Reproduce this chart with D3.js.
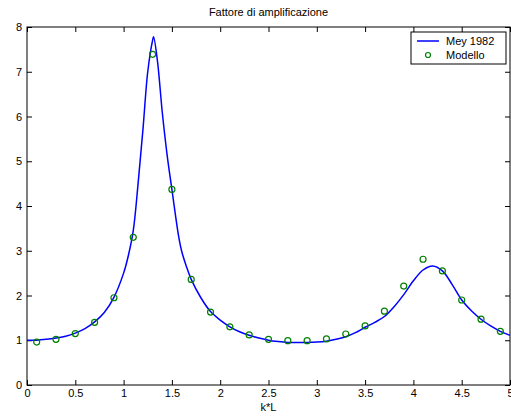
<!DOCTYPE html>
<html>
<head>
<meta charset="utf-8">
<script src="https://cdn.jsdelivr.net/npm/d3@7"></script>
<style>
  body { margin: 0; background: #fff; }
  svg { display: block; font-family: "Liberation Sans", Arial, sans-serif; }
</style>
</head>
<body>
<div id="chart"></div>
<script>
// curve (Mey 1982)
var meyK = [0, 0.1, 0.2, 0.3, 0.4, 0.5, 0.6, 0.7, 0.8, 0.9, 1.0, 1.05, 1.1, 1.15, 1.2, 1.25, 1.3, 1.31, 1.35, 1.4, 1.45, 1.5, 1.57, 1.6, 1.65, 1.7, 1.8, 1.9, 2.0, 2.1, 2.2, 2.3, 2.4, 2.5, 2.6, 2.7, 2.8, 2.9, 3.0, 3.1, 3.2, 3.3, 3.4, 3.5, 3.6, 3.7, 3.8, 3.9, 4.0, 4.1, 4.2, 4.3, 4.4, 4.5, 4.6, 4.7, 4.8, 4.9, 5.0];
var meyA = [1.0, 1.0, 1.02, 1.05, 1.09, 1.16, 1.26, 1.41, 1.62, 1.96, 2.5, 2.9, 3.45, 4.5, 5.7, 7.0, 7.7, 7.78, 7.25, 6.1, 5.15, 4.37, 3.32, 3.0, 2.65, 2.36, 1.95, 1.64, 1.45, 1.3, 1.19, 1.11, 1.05, 1.0, 0.97, 0.95, 0.95, 0.95, 0.96, 0.98, 1.02, 1.08, 1.17, 1.29, 1.4, 1.53, 1.75, 2.02, 2.33, 2.57, 2.66, 2.55, 2.25, 1.9, 1.66, 1.47, 1.32, 1.2, 1.11];

// model points
var modK = [0.1, 0.3, 0.5, 0.7, 0.9, 1.1, 1.3, 1.5, 1.7, 1.9, 2.1, 2.3, 2.5, 2.7, 2.9, 3.1, 3.3, 3.5, 3.7, 3.9, 4.1, 4.3, 4.5, 4.7, 4.9];
var modA = [0.96, 1.02, 1.15, 1.4, 1.95, 3.3, 7.39, 4.37, 2.36, 1.63, 1.3, 1.12, 1.02, 0.99, 0.99, 1.03, 1.14, 1.32, 1.65, 2.21, 2.81, 2.55, 1.9, 1.47, 1.2];

var xTicks = [0, 0.5, 1, 1.5, 2, 2.5, 3, 3.5, 4, 4.5, 5];
var yTicks = [0, 1, 2, 3, 4, 5, 6, 7, 8];

var W = 511, H = 416;
var margin = {left: 27, top: 27, right: 1, bottom: 31};
var width = W - margin.left - margin.right,
    height = H - margin.top - margin.bottom;

var svg = d3.select("#chart").append("svg")
    .attr("width", W)
    .attr("height", H);

var x = d3.scaleLinear().domain([0, 5]).range([0, width]);
var y = d3.scaleLinear().domain([0, 8]).range([height, 0]);

var g = svg.append("g")
    .attr("transform", "translate(" + margin.left + "," + margin.top + ")");

// axes, MATLAB style: ticks inside, box all round
function styleAxis(sel) {
    sel.select(".domain").remove();
    sel.selectAll(".tick line").attr("stroke", "#000");
    sel.selectAll(".tick text").attr("fill", "#000").attr("font-size", 11);
}

g.append("g")
    .attr("transform", "translate(0," + height + ")")
    .call(d3.axisBottom(x).tickValues(xTicks).tickSizeInner(-5).tickSizeOuter(0).tickPadding(4).tickFormat(d3.format("")))
    .call(styleAxis);

g.append("g")
    .call(d3.axisTop(x).tickValues(xTicks).tickSizeInner(-5).tickSizeOuter(0).tickFormat(""))
    .call(styleAxis);

g.append("g")
    .call(d3.axisLeft(y).tickValues(yTicks).tickSizeInner(-5).tickSizeOuter(0).tickPadding(5))
    .call(styleAxis);

g.append("g")
    .attr("transform", "translate(" + width + ",0)")
    .call(d3.axisRight(y).tickValues(yTicks).tickSizeInner(-5).tickSizeOuter(0).tickFormat(""))
    .call(styleAxis);

g.append("rect")
    .attr("x", 0).attr("y", 0)
    .attr("width", width).attr("height", height)
    .attr("fill", "none")
    .attr("stroke", "#000")
    .attr("stroke-width", 1);

// curve
var line = d3.line()
    .x(function(d) { return x(d[0]); })
    .y(function(d) { return y(d[1]); })
    .curve(d3.curveCatmullRom.alpha(0.5));

g.append("path")
    .datum(meyK.map(function(k, i) { return [k, meyA[i]]; }))
    .attr("d", line)
    .attr("fill", "none")
    .attr("stroke", "#0000ff")
    .attr("stroke-width", 1.5);

g.selectAll("circle.mod")
    .data(modK.map(function(k, i) { return [k, modA[i]]; }))
    .enter().append("circle")
    .attr("class", "mod")
    .attr("cx", function(d) { return x(d[0]); })
    .attr("cy", function(d) { return y(d[1]); })
    .attr("r", 3)
    .attr("fill", "none")
    .attr("stroke", "#008000")
    .attr("stroke-width", 1.2);

// title and label
svg.append("text")
    .attr("x", margin.left + width / 2)
    .attr("y", 16)
    .attr("text-anchor", "middle")
    .attr("font-size", 11)
    .text("Fattore di amplificazione");

svg.append("text")
    .attr("x", margin.left + width / 2)
    .attr("y", 411)
    .attr("text-anchor", "middle")
    .attr("font-size", 11)
    .text("k*L");

// legend
var lg = svg.append("g").attr("transform", "translate(411,32)");
lg.append("rect")
    .attr("width", 95).attr("height", 32)
    .attr("fill", "#fff")
    .attr("stroke", "#000");
lg.append("line")
    .attr("x1", 6).attr("x2", 28)
    .attr("y1", 9).attr("y2", 9)
    .attr("stroke", "#0000ff")
    .attr("stroke-width", 1.5);
lg.append("circle")
    .attr("cx", 17).attr("cy", 23).attr("r", 2.5)
    .attr("fill", "none")
    .attr("stroke", "#008000")
    .attr("stroke-width", 1.2);
lg.append("text").attr("x", 35).attr("y", 13).attr("font-size", 11).text("Mey 1982");
lg.append("text").attr("x", 35).attr("y", 27).attr("font-size", 11).text("Modello");
</script>
</body>
</html>
